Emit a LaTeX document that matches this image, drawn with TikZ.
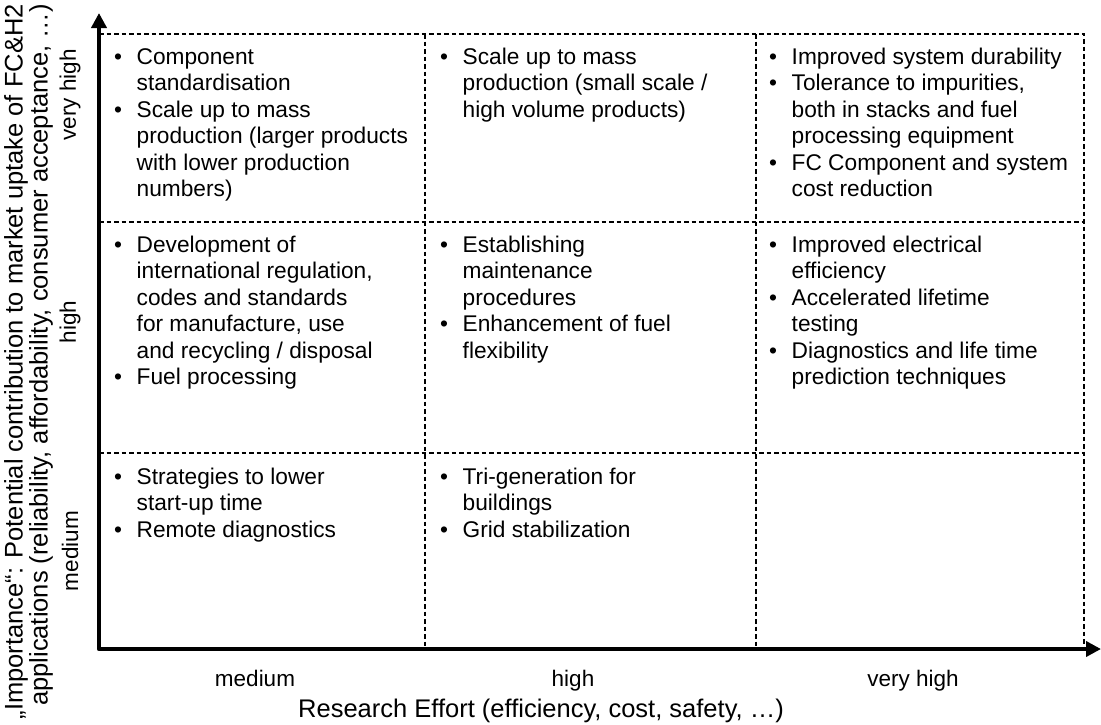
\documentclass[tikz,border=0pt]{standalone}
\usepackage{fontspec}
\setmainfont{Liberation Sans}
\usetikzlibrary{arrows.meta}
\newlength\bulw
\setlength\bulw{22.5pt}
\newcommand\bul{\makebox[\bulw][l]{•}}
\newcommand\ind{\hspace*{\bulw}}
\newcommand\topst{\rule{0pt}{22pt}}
\tikzset{
  axisline/.style={line width=4.5pt, line join=round},
  gridline/.style={line width=1.6pt, dash pattern=on 4.5pt off 3pt},
  celltext/.style={anchor=north west, inner sep=0pt, align=left,
    font=\fontsize{22.7pt}{26.5pt}\selectfont},
  lbl/.style={inner sep=0pt, font=\fontsize{22.5pt}{27pt}\selectfont},
  biglbl/.style={inner sep=0pt, font=\fontsize{25.5pt}{27pt}\selectfont},
}
\begin{document}
\begin{tikzpicture}[x=1pt,y=-1pt]
\useasboundingbox (0,0) rectangle (1101,724);
% axes
\coordinate (org) at (99,649);
\coordinate (ytip) at (99,13);
\coordinate (xtip) at (1101,649);
\draw[axisline, {Triangle[width=15pt,length=15pt]}-{Triangle[width=15pt,length=15pt]}] (ytip) -- (org) -- (xtip);
% grid
\coordinate (tl) at (99,34);
\coordinate (tr) at (1084,34);
\coordinate (m1l) at (99,222);
\coordinate (m1r) at (1084,222);
\coordinate (m2l) at (99,453);
\coordinate (m2r) at (1084,453);
\coordinate (v1t) at (425,34);
\coordinate (v1b) at (425,649);
\coordinate (v2t) at (756,34);
\coordinate (v2b) at (756,649);
\coordinate (v3b) at (1084,649);
\draw[gridline] (tl) -- (tr) -- (v3b);
\draw[gridline] (m1l) -- (m1r);
\draw[gridline] (m2l) -- (m2r);
\draw[gridline] (v1t) -- (v1b);
\draw[gridline] (v2t) -- (v2b);
% cells (first baseline = y + 22)
\node[celltext] (c11) at (114,42) {\topst\bul Component\\ \ind standardisation\\ \bul Scale up to mass\\ \ind production (larger products\\ \ind with lower production\\ \ind numbers)};
\node[celltext] (c12) at (440,42) {\topst\bul Scale up to mass\\ \ind production (small scale /\\ \ind high volume products)};
\node[celltext] (c13) at (769,42) {\topst\bul Improved system durability\\ \bul Tolerance to impurities,\\ \ind both in stacks and fuel\\ \ind processing equipment\\ \bul FC Component and system\\ \ind cost reduction};
\node[celltext] (c21) at (114,230) {\topst\bul Development of\\ \ind international regulation,\\ \ind codes and standards\\ \ind for manufacture, use\\ \ind and recycling / disposal\\ \bul Fuel processing};
\node[celltext] (c22) at (440,230) {\topst\bul Establishing\\ \ind maintenance\\ \ind procedures\\ \bul Enhancement of fuel\\ \ind flexibility};
\node[celltext] (c23) at (769,230) {\topst\bul Improved electrical\\ \ind efficiency\\ \bul Accelerated lifetime\\ \ind testing\\ \bul Diagnostics and life time\\ \ind prediction techniques};
\node[celltext] (c31) at (114,462) {\topst\bul Strategies to lower\\ \ind start-up time\\ \bul Remote diagnostics};
\node[celltext] (c32) at (440,462) {\topst\bul Tri-generation for\\ \ind buildings\\ \bul Grid stabilization};
% x labels
\node[lbl, anchor=base] (xm) at (255,686) {medium};
\node[lbl, anchor=base] (xh) at (573,686) {high};
\node[lbl, anchor=base] (xv) at (913,686) {very high};
\node[biglbl, anchor=base] (xt) at (541,717) {Research Effort (efficiency, cost, safety, …)};
% y labels
\node[biglbl, rotate=90, anchor=east] (yt1) at (16,4) {„Importance“: Potential contribution to market uptake of FC\&H2};
\node[biglbl, rotate=90, anchor=east] (yt2) at (41,4) {applications (reliability, affordability, consumer acceptance, …)};
\node[lbl, rotate=90] (yv) at (70,95) {very high};
\node[lbl, rotate=90] (yh) at (70,322) {high};
\node[lbl, rotate=90] (ym) at (70,551) {medium};
\end{tikzpicture}
\end{document}
